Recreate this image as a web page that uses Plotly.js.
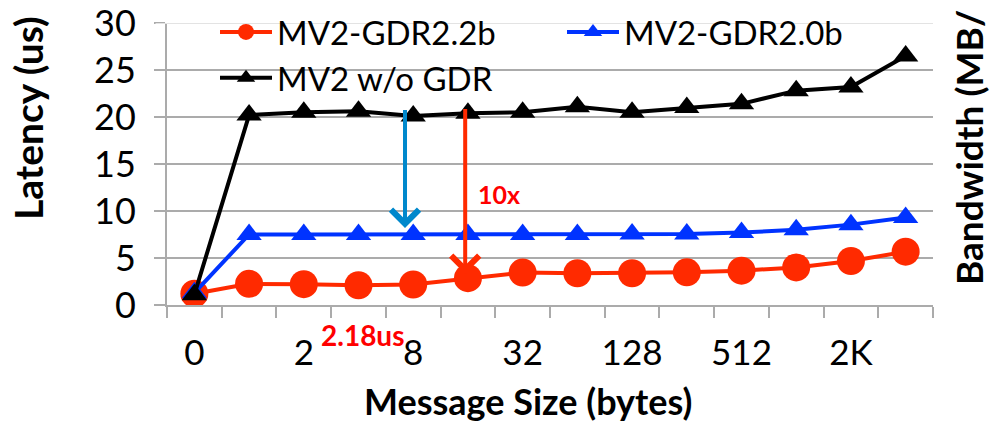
<!DOCTYPE html>
<html>
<head>
<meta charset="utf-8">
<script src="https://cdn.plot.ly/plotly-3.0.1.min.js"></script>
<style>html,body{margin:0;padding:0;background:#fff;}#chart{width:994px;height:422px;}</style>
</head>
<body>
<div id="chart"></div>
<script>
var categories = ["0","1","2","4","8","16","32","64","128","256","512","1K","2K","4K"];
var gdr22b = [1.2, 2.25, 2.22, 2.1, 2.18, 2.85, 3.45, 3.38, 3.38, 3.48, 3.65, 4.0, 4.68, 5.67];
var gdr20b = [1.3, 7.5, 7.5, 7.5, 7.5, 7.5, 7.5, 7.5, 7.55, 7.55, 7.7, 8.0, 8.55, 9.3];
var noGdr  = [1.1, 20.2, 20.5, 20.6, 20.1, 20.4, 20.5, 21.1, 20.5, 21.0, 21.4, 22.8, 23.2, 26.5];
var seriesNames = ["MV2-GDR2.2b", "MV2-GDR2.0b", "MV2 w/o GDR"];
var yTitle = "Latency (us)";
var xTitle = "Message Size (bytes)";
var rightTitle = "Bandwidth (MB/";
var speedupLabel = "10x";
var latencyLabel = "2.18us";

var FONT = "Lato, 'Open Sans', sans-serif";
var W = 994, H = 422, L = 167, R = 61, T = 23, B = 117;
var PW = W - L - R, PH = H - T - B;
function px(x) { return (x - L) / PW; }
function py(y) { return (H - B - y) / PH; }

var traces = [
  {x: categories, y: gdr22b, name: seriesNames[0], type: "scatter", mode: "lines+markers",
   line: {color: "#FF2A00", width: 4}, marker: {symbol: "circle", size: 28, color: "#FF2A00"}},
  {x: categories, y: gdr20b, name: seriesNames[1], type: "scatter", mode: "lines+markers",
   line: {color: "#0033FF", width: 4}, marker: {symbol: "triangle-up", size: 22, color: "#0033FF"}},
  {x: categories, y: noGdr, name: seriesNames[2], type: "scatter", mode: "lines+markers",
   line: {color: "#000000", width: 4}, marker: {symbol: "triangle-up", size: 22, color: "#000000"}}
];

var layout = {
  width: W, height: H,
  margin: {l: L, r: R, t: T, b: B, pad: 0, autoexpand: false},
  paper_bgcolor: "#ffffff", plot_bgcolor: "#ffffff",
  font: {family: FONT, color: "#000000", size: 35},
  showlegend: true,
  legend: {orientation: "h", x: px(215), y: py(4), xanchor: "left", yanchor: "top",
           bgcolor: "rgba(0,0,0,0)", font: {family: FONT, size: 33, color: "#000"},
           itemwidth: 52, entrywidth: 280, entrywidthmode: "pixels", traceorder: "normal"},
  xaxis: {type: "category", categoryorder: "array", categoryarray: categories,
          tickson: "boundaries", ticks: "outside", ticklen: 11, tickwidth: 2, tickcolor: "#ABABAB",
          ticklabelstep: 2, tickangle: 0, showgrid: false, showline: true, linecolor: "#ABABAB", linewidth: 2,
          zeroline: false, tickfont: {family: FONT, size: 35}, ticklabelstandoff: 16,
          ticklabeloverflow: "allow", range: [-0.5, 13.5]},
  yaxis: {range: [0, 30], dtick: 5, showgrid: true, gridcolor: "#ABABAB", gridwidth: 2,
          ticks: "outside", ticklen: 11, tickwidth: 2, tickcolor: "#ABABAB",
          showline: true, linecolor: "#ABABAB", linewidth: 2, zeroline: false,
          tickfont: {family: FONT, size: 36}, ticklabelstandoff: 11, ticklabeloverflow: "allow"},
  shapes: [
    {type: "line", xref: "paper", yref: "y", x0: -0.015, x1: 1, y0: 30, y1: 30,
     line: {color: "#E3E3E3", width: 2}, layer: "above"}
  ],
  annotations: [
    {xref: "x", yref: "y", axref: "x", ayref: "y", x: 3.85, y: 8.2, ax: 3.85, ay: 20.9,
     text: "", showarrow: true, arrowhead: 4, arrowsize: 1.35, arrowwidth: 4, arrowcolor: "#0088CC"},
    {xref: "x", yref: "y", axref: "x", ayref: "y", x: 4.95, y: 3.3, ax: 4.95, ay: 21.0,
     text: "", showarrow: true, arrowhead: 4, arrowsize: 1.35, arrowwidth: 4, arrowcolor: "#FF2A00"},
    {xref: "x", yref: "y", x: 5.57, y: 11.8, text: "<b>" + speedupLabel + "</b>", showarrow: false,
     font: {family: FONT, size: 25, color: "#FF0000"}},
    {xref: "paper", yref: "paper", x: px(362), y: py(335), xanchor: "center", yanchor: "middle",
     text: "<b>" + latencyLabel + "</b>", showarrow: false,
     font: {family: FONT, size: 28, color: "#FF0000"}},
    {xref: "paper", yref: "paper", x: px(28), y: py(118), text: "<b>" + yTitle + "</b>",
     textangle: -90, showarrow: false, xanchor: "center", yanchor: "middle",
     font: {family: FONT, size: 39, color: "#000"}},
    {xref: "paper", yref: "paper", x: px(528), y: py(377), text: "<b>" + xTitle + "</b>",
     showarrow: false, xanchor: "center", yanchor: "top",
     font: {family: FONT, size: 36, color: "#000"}},
    {xref: "paper", yref: "paper", x: px(968), y: py(148), text: "<b>" + rightTitle + "</b>",
     textangle: -90, showarrow: false, xanchor: "center", yanchor: "middle",
     font: {family: FONT, size: 37, color: "#000"}}
  ]
};

Plotly.newPlot("chart", traces, layout, {displayModeBar: false, staticPlot: true});
</script>
</body>
</html>
